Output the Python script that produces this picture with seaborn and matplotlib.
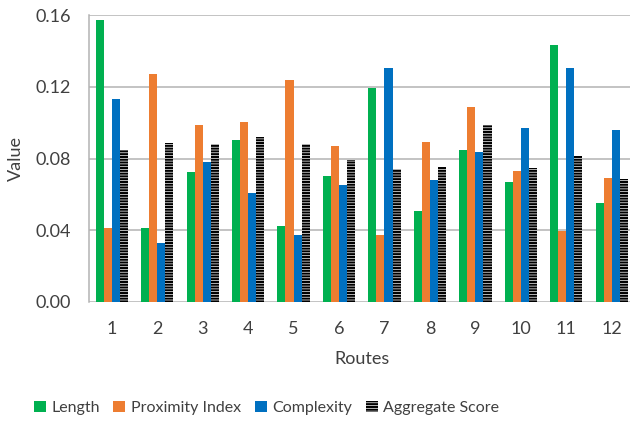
import matplotlib
matplotlib.use("Agg")
import matplotlib.pyplot as plt
import seaborn as sns
import pandas as pd
from matplotlib.patches import Patch

routes = [str(i) for i in range(1, 13)]
length = [0.157, 0.0415, 0.0725, 0.0902, 0.0422, 0.0701, 0.1195, 0.0510, 0.0850, 0.0667, 0.1433, 0.0550]
proximity = [0.0410, 0.1270, 0.0985, 0.1002, 0.1238, 0.0872, 0.0372, 0.0892, 0.1086, 0.0729, 0.0395, 0.0690]
complexity = [0.1134, 0.0327, 0.0779, 0.0606, 0.0372, 0.0650, 0.1307, 0.0682, 0.0838, 0.0972, 0.1303, 0.0961]
aggregate = [0.0845, 0.0889, 0.0883, 0.0922, 0.0879, 0.0790, 0.0742, 0.0755, 0.0987, 0.0746, 0.0816, 0.0684]
series = ["Length", "Proximity Index", "Complexity", "Aggregate Score"]
colors = ["#00B050", "#ED7D31", "#0070C0", "#ffffff"]
yticks = [0.00, 0.04, 0.08, 0.12, 0.16]

df = pd.DataFrame({
    "Routes": routes * 4,
    "Value": length + proximity + complexity + aggregate,
    "Series": sum([[s] * 12 for s in series], []),
})

sns.set_theme(style="white")
plt.rcParams["font.family"] = ["Lato", "DejaVu Sans"]
plt.rcParams["hatch.linewidth"] = 1.5

fig = plt.figure(figsize=(6.3, 4.21), dpi=100)
ax = fig.add_axes([89 / 630, 1 - 302 / 421, (634.5 - 89) / 630, (302 - 15) / 421])

sns.barplot(data=df, x="Routes", y="Value", hue="Series", hue_order=series,
            palette=colors, width=0.71, saturation=1, ax=ax, legend=False,
            linewidth=0, edgecolor="none")

# striped fill for the aggregate score bars
for bar in ax.containers[3]:
    bar.set_facecolor("white")
    bar.set_edgecolor("black")
    bar.set_linewidth(0)
    bar.set_hatch("------")

ax.set_ylim(0, 0.16)
ax.set_xlim(-0.5, 11.5)
ax.set_yticks(yticks)
ax.set_yticklabels([f"{t:.2f}" for t in yticks])
ax.yaxis.grid(True, color="#b3b3b3", linewidth=1.1)
ax.set_axisbelow(True)
for s in ["top", "right", "bottom"]:
    ax.spines[s].set_visible(False)
ax.spines["left"].set_color("#b3b3b3")
ax.spines["left"].set_linewidth(1.1)
ax.tick_params(axis="both", length=0, labelsize=13, colors="#404040")
ax.tick_params(axis="y", pad=13)
ax.tick_params(axis="x", pad=14)
ax.set_xlabel("Routes", fontsize=13, color="#404040", labelpad=10)
ax.set_ylabel("Value", fontsize=13, color="#404040", labelpad=8)

handles = [Patch(facecolor=c, edgecolor="none") for c in colors[:3]]
handles.append(Patch(facecolor="white", edgecolor="black", linewidth=0, hatch="------"))
fig.legend(handles, series, loc="center", bbox_to_anchor=(0.423, 1 - 408 / 421),
           ncol=4, frameon=False, fontsize=11.5, handlelength=0.75, handleheight=0.75,
           handletextpad=0.35, columnspacing=0.85, labelcolor="#404040")

fig.savefig("out.png", dpi=100)
